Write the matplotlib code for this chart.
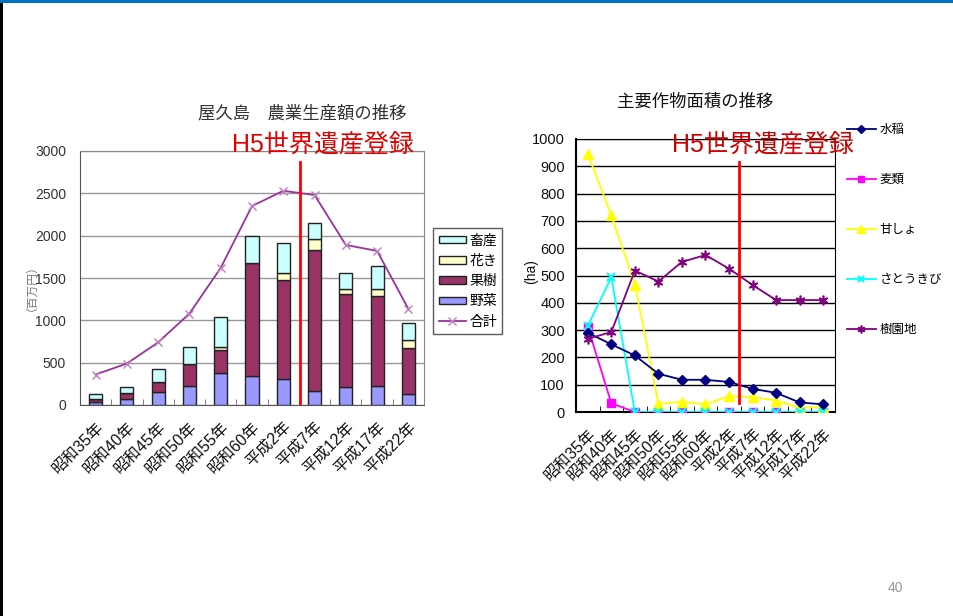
import numpy as np
import matplotlib
matplotlib.use("Agg")
import matplotlib.pyplot as plt
from matplotlib.patches import Rectangle

plt.rcParams['font.family'] = ['Liberation Sans', 'Noto Sans CJK JP', 'DejaVu Sans']

# --- data ---
years = ["昭和35年", "昭和40年", "昭和45年", "昭和50年", "昭和55年", "昭和60年",
         "平成2年", "平成7年", "平成12年", "平成17年", "平成22年"]

# 農業生産額 (百万円)
yasai = [40, 67, 154, 220, 382, 343, 307, 169, 209, 220, 126]
kaju = [30, 71, 118, 265, 268, 1339, 1166, 1663, 1103, 1068, 552]
kaki = [0, 0, 0, 0, 40, 0, 91, 126, 55, 83, 86]
chikusan = [60, 75, 150, 197, 354, 318, 351, 189, 193, 272, 201]
goukei = [360, 490, 740, 1080, 1620, 2350, 2530, 2480, 1890, 1820, 1135]

# 主要作物面積 (ha)
suitou = [290, 248, 207, 140, 118, 118, 110, 85, 70, 35, 28]
mugi = [312, 32, 0, 0, 0, 0, 0, 0, 0, 0, 0]
kansho = [945, 720, 467, 30, 38, 28, 58, 55, 42, 15, 18]
satoukibi = [315, 493, 0, 0, 0, 0, 0, 0, 0, 0, 0]
juenchi = [268, 293, 518, 478, 550, 575, 525, 465, 410, 410, 410]

# 世界遺産登録 (平成5年) position between 平成2年 and 平成7年
h5_pos_left = 6.55
h5_pos_right = 6.42

fig = plt.figure(figsize=(9.54, 6.16), dpi=100)

# slide decoration
fig.add_artist(Rectangle((0, 1 - 3 / 616), 1, 3 / 616, transform=fig.transFigure,
                         color="#0070c0", lw=0))
fig.add_artist(Rectangle((0, 0), 2.5 / 954, 1 - 3 / 616, transform=fig.transFigure,
                         color="black", lw=0))
fig.text(895 / 954, 1 - 588 / 616, "40", color="#999999", fontsize=10,
         ha="center", va="center")

x = np.arange(len(years))

# --- 1) left: stacked bars + total line ---
ax1 = fig.add_axes([80 / 954, 1 - 405 / 616, 344 / 954, 254 / 616])
bw = 0.42
ec = "#222222"
b_yasai = ax1.bar(x, yasai, bw, color="#9999ff", edgecolor=ec, lw=1, zorder=3)
bottom = np.array(yasai)
b_kaju = ax1.bar(x, kaju, bw, bottom=bottom, color="#993366", edgecolor=ec, lw=1, zorder=3)
bottom = bottom + np.array(kaju)
b_kaki = ax1.bar(x, kaki, bw, bottom=bottom, color="#ffffcc", edgecolor=ec, lw=1, zorder=3)
bottom = bottom + np.array(kaki)
b_chiku = ax1.bar(x, chikusan, bw, bottom=bottom, color="#ccffff", edgecolor=ec, lw=1, zorder=3)
l_total, = ax1.plot(x, goukei, color="#993399", lw=1.3, marker="x", ms=6,
                    mec="#c080c0", zorder=4)
ax1.axvline(h5_pos_left, ymin=0, ymax=0.955, color="#ff0000", lw=2, zorder=5)

ax1.set_xlim(-0.5, len(years) - 0.5)
ax1.set_ylim(0, 3000)
ax1.set_yticks(np.arange(0, 3001, 500))
ax1.yaxis.grid(True, color="#999999", lw=1)
ax1.set_axisbelow(True)
ax1.set_xticks(x)
ax1.set_xticklabels(years, rotation=45, ha="right", rotation_mode="anchor",
                    fontsize=11.5, color="#111111")
ax1.tick_params(axis="x", length=0, pad=10)
ax1.set_xticks(np.arange(0.5, len(years) - 1, 1), minor=True)
ax1.tick_params(axis="x", which="minor", direction="in", length=4, color="#666666")
ax1.tick_params(axis="y", length=0, labelsize=10, labelcolor="#333333", pad=10)
for s in ax1.spines.values():
    s.set_color("#888888")
ax1.spines["bottom"].set_color("#555555")
ax1.spines["left"].set_color("#555555")

fig.text(302 / 954, 1 - 113 / 616, "屋久島　農業生産額の推移", fontsize=12.5,
         color="#333333", ha="center", va="center")
fig.text(323 / 954, 1 - 144 / 616, "H5世界遺産登録", fontsize=18,
         color="#e00000", ha="center", va="center")
fig.text(26 / 954, 1 - 282 / 616, "（百万円）", fontsize=8.5, color="#777777",
         rotation=90, ha="center", va="center")

leg1 = ax1.legend([b_chiku, b_kaki, b_kaju, b_yasai, l_total],
                  ["畜産", "花き", "果樹", "野菜", "合計"],
                  loc="upper left", bbox_to_anchor=(433 / 954, 1 - 228 / 616),
                  bbox_transform=fig.transFigure, fancybox=False, fontsize=10,
                  handlelength=2.0, handleheight=0.45, handletextpad=0.2,
                  labelspacing=0.45, borderpad=0.4, borderaxespad=0)
leg1.get_frame().set_edgecolor("#333333")
leg1.get_frame().set_linewidth(1)

# --- 2) right: crop area lines ---
ax2 = fig.add_axes([576 / 954, 1 - 412 / 616, 259 / 954, 273 / 616])
ax2.plot(x, suitou, color="#000080", marker="D", ms=5, lw=1.3, label="水稲", zorder=4)
ax2.plot(x, mugi, color="#ff00ff", marker="s", ms=6, lw=1.3, label="麦類", zorder=3)
ax2.plot(x, kansho, color="#ffff00", marker="^", ms=7, lw=1.3, label="甘しょ", zorder=3)
ax2.plot(x, satoukibi, color="#00ffff", marker="x", ms=6, mew=1.5, lw=1.3,
         label="さとうきび", zorder=3)
ax2.plot(x, juenchi, color="#800080", marker=(6, 2, 0), ms=7, mew=1.2, lw=1.3,
         label="樹園地", zorder=4)
ax2.axvline(h5_pos_right, ymin=0.033, ymax=0.915, color="#ff0000", lw=2, zorder=5)

ax2.set_xlim(-0.5, len(years) - 0.5)
ax2.set_ylim(0, 1000)
ax2.set_yticks(np.arange(0, 1001, 100))
ax2.yaxis.grid(True, color="black", lw=1)
ax2.set_axisbelow(True)
ax2.set_xticks(x)
ax2.set_xticklabels(years, rotation=45, ha="right", rotation_mode="anchor",
                    fontsize=11.5, color="#111111")
ax2.tick_params(axis="x", length=0, pad=10)
ax2.set_xticks(np.arange(0.5, len(years) - 1, 1), minor=True)
ax2.tick_params(axis="x", which="minor", direction="in", length=4, color="black")
ax2.tick_params(axis="y", length=0, labelsize=10.5, labelcolor="#111111", pad=8)
for s in ax2.spines.values():
    s.set_color("black")
ax2.spines["left"].set_linewidth(1.5)
ax2.spines["bottom"].set_linewidth(1.5)

fig.text(695 / 954, 1 - 102 / 616, "主要作物面積の推移", fontsize=12.5,
         color="#111111", ha="center", va="center")
fig.text(763 / 954, 1 - 144 / 616, "H5世界遺産登録", fontsize=18,
         color="#cc0000", ha="center", va="center")
fig.text(531 / 954, 1 - 272 / 616, "(ha)", fontsize=10, color="#111111",
         rotation=90, ha="center", va="center")

ax2.legend(loc="upper left", bbox_to_anchor=(847 / 954, 1 - 124 / 616),
           bbox_transform=fig.transFigure, frameon=False, fontsize=9,
           handlelength=2.3, handletextpad=0.3, labelspacing=3.05,
           borderpad=0, borderaxespad=0, markerscale=0.8)

fig.savefig("out.png", dpi=100)
